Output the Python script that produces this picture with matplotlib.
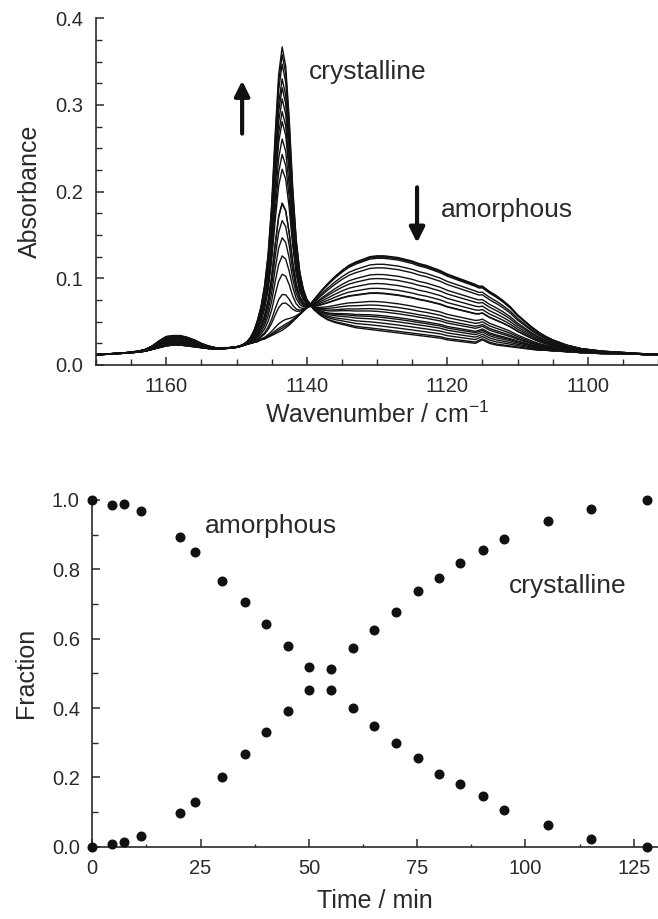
import matplotlib
matplotlib.use("Agg")
import matplotlib.pyplot as plt
from matplotlib.ticker import MultipleLocator
import numpy as np

plt.rcParams['font.family'] = ['Liberation Sans', 'DejaVu Sans']
plt.rcParams['mathtext.fontset'] = 'custom'
plt.rcParams['mathtext.rm'] = 'Liberation Sans'
plt.rcParams['mathtext.it'] = 'Liberation Sans:italic'
plt.rcParams['mathtext.bf'] = 'Liberation Sans:bold'

# ---------------- data ----------------
time_min = [0, 4.6, 7.4, 11.2, 20.2, 23.6, 30, 35.2, 40.2, 45.1, 50, 55.2,
            60.1, 65, 70, 75.1, 80.1, 85, 90.2, 95.1, 105.2, 115.1, 128]
amorphous_frac = [1.0, 0.986, 0.988, 0.967, 0.892, 0.849, 0.765, 0.707, 0.641,
                  0.578, 0.517, 0.513, 0.399, 0.349, 0.298, 0.257, 0.210,
                  0.181, 0.146, 0.107, 0.063, 0.023, 0.0]
crystalline_frac = [0.0, 0.008, 0.014, 0.032, 0.096, 0.129, 0.202, 0.266, 0.330,
                    0.391, 0.453, 0.451, 0.572, 0.624, 0.678, 0.737, 0.774,
                    0.817, 0.856, 0.888, 0.939, 0.973, 1.0]

wavenumber = [1170, 1168, 1166, 1164, 1163, 1162, 1161, 1160, 1159, 1158, 1157,
              1156, 1155, 1154, 1153, 1152, 1151, 1150, 1149.5, 1149, 1148.5,
              1148, 1147.5, 1147, 1146.5, 1146, 1145.5, 1145, 1144.5, 1144,
              1143.5, 1143, 1142.5, 1142, 1141.5, 1141, 1140.5, 1140, 1139.5,
              1139, 1138, 1137, 1136, 1135, 1134, 1133, 1132, 1131, 1130, 1129,
              1128, 1127, 1126, 1125, 1124, 1123, 1122, 1121, 1120, 1119, 1118,
              1117, 1116, 1115.5, 1115, 1114.5, 1114, 1113, 1112, 1111, 1110,
              1109, 1108, 1107, 1106, 1105, 1104, 1103, 1102, 1101, 1100, 1098,
              1096, 1094, 1092, 1090]

# pure crystalline spectrum (last spectrum)
crystalline_spec = [0.012, 0.013, 0.014, 0.016, 0.018, 0.022, 0.028, 0.033, 0.034,
                    0.034, 0.032, 0.029, 0.025, 0.022, 0.020, 0.020, 0.020, 0.021,
                    0.022, 0.024, 0.027, 0.032, 0.040, 0.052, 0.068, 0.092, 0.128,
                    0.185, 0.265, 0.335, 0.367, 0.345, 0.285, 0.205, 0.145, 0.108,
                    0.088, 0.076, 0.070, 0.064, 0.057, 0.052, 0.049, 0.047, 0.045,
                    0.043, 0.042, 0.041, 0.040, 0.039, 0.038, 0.037, 0.036, 0.035,
                    0.034, 0.033, 0.032, 0.031, 0.029, 0.028, 0.027, 0.026, 0.025,
                    0.027, 0.029, 0.027, 0.025, 0.023, 0.022, 0.021, 0.020, 0.019,
                    0.018, 0.017, 0.017, 0.016, 0.016, 0.015, 0.015, 0.014, 0.014,
                    0.013, 0.013, 0.013, 0.012, 0.012]

# pure amorphous spectrum (first spectrum)
amorphous_spec = [0.012, 0.013, 0.014, 0.015, 0.016, 0.018, 0.020, 0.022, 0.023,
                  0.023, 0.022, 0.021, 0.020, 0.019, 0.019, 0.019, 0.020, 0.021,
                  0.022, 0.023, 0.024, 0.025, 0.026, 0.027, 0.029, 0.030, 0.032,
                  0.034, 0.036, 0.038, 0.040, 0.043, 0.046, 0.050, 0.054, 0.058,
                  0.062, 0.066, 0.070, 0.075, 0.085, 0.094, 0.102, 0.109, 0.115,
                  0.119, 0.122, 0.125, 0.126, 0.126, 0.125, 0.124, 0.122, 0.120,
                  0.117, 0.115, 0.112, 0.109, 0.105, 0.102, 0.099, 0.096, 0.093,
                  0.091, 0.091, 0.088, 0.085, 0.080, 0.074, 0.067, 0.058, 0.051,
                  0.044, 0.038, 0.033, 0.029, 0.026, 0.023, 0.021, 0.019, 0.018,
                  0.016, 0.015, 0.014, 0.013, 0.013]

# ---------------- figure ----------------
W, H = 658, 919
fig = plt.figure(figsize=(W / 100, H / 100), dpi=100)

ink = '#2a2a2a'
tick_fs = 14.5
label_fs = 18
ann_fs = 19

# top panel
ax1 = fig.add_axes([96 / W, 1 - 365 / H, 1 - 96 / W, (365 - 18.3) / H])
wn = np.array(wavenumber)
cs = np.array(crystalline_spec)
am = np.array(amorphous_spec)
for a, c in zip(amorphous_frac, crystalline_frac):
    ax1.plot(wn, a * am + c * cs, color='#111111', lw=1.0)

ax1.set_xlim(1170, 1090)
ax1.set_ylim(0, 0.4)
ax1.xaxis.set_major_locator(MultipleLocator(20))
ax1.xaxis.set_minor_locator(MultipleLocator(5))
ax1.yaxis.set_major_locator(MultipleLocator(0.1))
ax1.yaxis.set_minor_locator(MultipleLocator(0.025))
ax1.yaxis.set_major_formatter(plt.FuncFormatter(lambda v, p: f"{v:.1f}"))
ax1.set_xlabel('Wavenumber / cm$^{-1}$', fontsize=label_fs, color=ink, labelpad=4)
ax1.set_ylabel('Absorbance', fontsize=label_fs, color=ink, labelpad=10)

arrow_style = '-|>,head_length=0.9,head_width=0.45'
ax1.annotate('', xy=(1149.2, 0.328), xytext=(1149.2, 0.267),
             arrowprops=dict(arrowstyle=arrow_style, lw=3.0, color='#111111',
                             shrinkA=0, shrinkB=0))
ax1.annotate('', xy=(1124.3, 0.141), xytext=(1124.3, 0.205),
             arrowprops=dict(arrowstyle=arrow_style, lw=3.0, color='#111111',
                             shrinkA=0, shrinkB=0))
ax1.text(1139.7, 0.338, 'crystalline', fontsize=ann_fs, color=ink,
         ha='left', va='center')
ax1.text(1120.9, 0.179, 'amorphous', fontsize=ann_fs, color=ink,
         ha='left', va='center')

# bottom panel
ax2 = fig.add_axes([92.3 / W, 1 - 846.7 / H, 1 - 92.3 / W, (846.7 - 500) / H])
ax2.plot(time_min, amorphous_frac, 'o', color='#111111', ms=6.2, clip_on=False,
         zorder=5)
ax2.plot(time_min, crystalline_frac, 'o', color='#111111', ms=6.2, clip_on=False,
         zorder=5)
ax2.set_xlim(0, 130.6)
ax2.set_ylim(0, 1.0)
ax2.xaxis.set_major_locator(MultipleLocator(25))
ax2.xaxis.set_minor_locator(MultipleLocator(12.5))
ax2.yaxis.set_major_locator(MultipleLocator(0.2))
ax2.yaxis.set_minor_locator(MultipleLocator(0.1))
ax2.yaxis.set_major_formatter(plt.FuncFormatter(lambda v, p: f"{v:.1f}"))
ax2.set_xlabel('Time / min', fontsize=label_fs, color=ink, labelpad=8)
ax2.set_ylabel('Fraction', fontsize=label_fs, color=ink, labelpad=10)
ax2.text(26.0, 0.925, 'amorphous', fontsize=ann_fs, color=ink,
         ha='left', va='center')
ax2.text(96.2, 0.752, 'crystalline', fontsize=ann_fs, color=ink,
         ha='left', va='center')

for ax in (ax1, ax2):
    ax.spines['top'].set_visible(False)
    ax.spines['right'].set_visible(False)
    for s in ('left', 'bottom'):
        ax.spines[s].set_linewidth(1.2)
        ax.spines[s].set_color(ink)
    ax.tick_params(which='major', direction='in', length=5.5, width=1.1,
                   color=ink, labelcolor=ink, labelsize=tick_fs, pad=9)
    ax.tick_params(which='minor', direction='in', length=4, width=1.0, color=ink)
    ax.set_facecolor('none')
ax2.tick_params(axis='x', which='minor', length=2)

fig.savefig('out.png', dpi=100)
